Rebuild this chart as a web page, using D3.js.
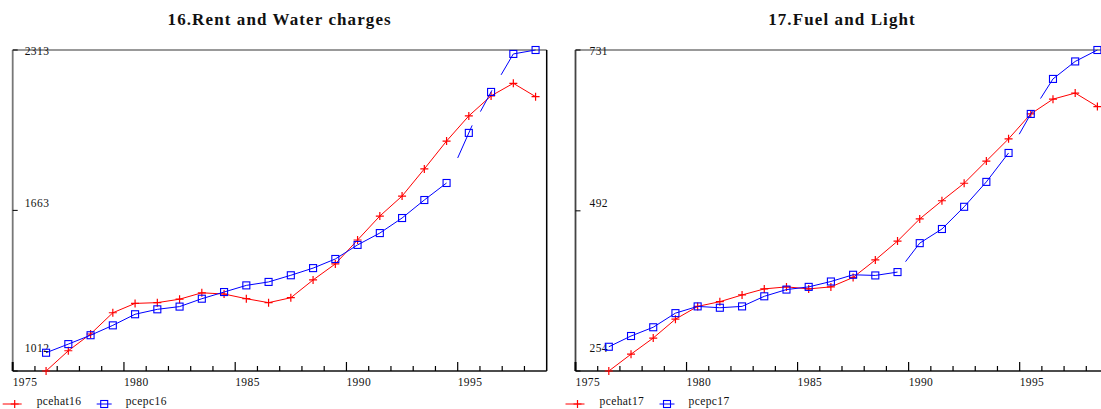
<!DOCTYPE html>
<html>
<head>
<meta charset="utf-8">
<script src="https://cdn.jsdelivr.net/npm/d3@7"></script>
<style>
  body { margin: 0; background: #fff; }
  text { font-family: "Liberation Serif", "Times New Roman", serif; fill: #111; }
</style>
</head>
<body>
<svg id="chart" width="1101" height="409"></svg>
<script>
// observation years (points sit mid-year)
let years = [1976, 1977, 1978, 1979, 1980, 1981, 1982, 1983, 1984, 1985, 1986, 1987,
             1988, 1989, 1990, 1991, 1992, 1993, 1994, 1995, 1996, 1997, 1998];

// 16. Rent and Water charges
let pcehat16 = [1012, 1094, 1162, 1248, 1286, 1289, 1303, 1329, 1324, 1305, 1289, 1309,
                1381, 1446, 1543, 1640, 1721, 1831, 1944, 2046, 2127, 2178, 2124];
let pcepc16 = [1086, 1121, 1157, 1197, 1242, 1262, 1273, 1305, 1332, 1359, 1373, 1400,
               1429, 1466, 1523, 1571, 1632, 1705, 1774, 1977, 2143, 2297, 2313];
let yTicks16 = [1012, 1663, 2313];
// broken pieces of the pcepc line: [from index, start fraction, end fraction]
let pcepc16Pieces = [[18, 0.5, 1.15], [19, 0.52, 1.04], [20, 0.45, 1.0]];

// 17. Fuel and Light
let pcehat17 = [254, 279, 303, 331, 350, 357, 367, 376, 379, 376, 379, 393,
                419, 447, 480, 507, 533, 566, 599, 636, 658, 667, 647];
let pcepc17 = [290, 306, 319, 340, 350, 348, 350, 365, 375, 379, 387, 397,
               396, 401, 444, 465, 498, 535, 578, 636, 688, 714, 731];
let yTicks17 = [254, 492, 731];
let pcepc17Pieces = [[13, 0.36, 1.0], [18, 0.48, 1.09], [19, 0.44, 1.0]];

let xDomain = [1975, 1999];
let xMajor = [1975, 1980, 1985, 1990, 1995];

let svg = d3.select("#chart");

function drawPanel(p) {
  let g = svg.append("g");
  let x = d3.scaleLinear().domain(xDomain).range([p.left, p.right]);
  let y = d3.scaleLinear().domain([p.yTicks[0], p.yTicks[2]]).range([371, 50]);

  // title
  g.append("text")
    .attr("x", (p.left + p.right) / 2).attr("y", 25)
    .attr("text-anchor", "middle")
    .style("font-size", "17px").style("font-weight", "bold")
    .style("letter-spacing", "1.1px")
    .text(p.title);

  // frame
  g.append("line").attr("x1", p.left).attr("x2", p.right).attr("y1", 50).attr("y2", 50)
    .attr("stroke", "#777").attr("stroke-width", 1.5);
  g.append("line").attr("x1", p.right).attr("x2", p.right).attr("y1", 50).attr("y2", 371)
    .attr("stroke", "#000").attr("stroke-width", 1.5);
  g.append("line").attr("x1", p.left).attr("x2", p.left).attr("y1", 50).attr("y2", 371)
    .attr("stroke", p.axisColor).attr("stroke-width", 1.8);
  g.append("line").attr("x1", p.left).attr("x2", p.right).attr("y1", 371).attr("y2", 371)
    .attr("stroke", "#111").attr("stroke-width", 1.3);

  // x ticks
  let allYears = d3.range(xDomain[0], xDomain[1]);
  g.selectAll(".xt").data(allYears).enter().append("line")
    .attr("x1", d => x(d)).attr("x2", d => x(d))
    .attr("y1", 371).attr("y2", d => xMajor.includes(d) ? 362 : 366)
    .attr("stroke", "#000").attr("stroke-width", d => d === 1975 ? 2 : 1.2);
  g.selectAll(".xl").data(xMajor).enter().append("text")
    .attr("x", d => x(d)).attr("y", 386)
    .style("font-size", "11.5px").style("letter-spacing", "0.4px")
    .text(d => d);

  // y ticks
  let labelShift = [-19, -3.5, 5];
  g.selectAll(".yt").data(p.yTicks).enter().append("line")
    .attr("x1", p.left).attr("x2", p.left + 5)
    .attr("y1", d => y(d)).attr("y2", d => y(d))
    .attr("stroke", "#000").attr("stroke-width", 1);
  g.selectAll(".yl").data(p.yTicks).enter().append("text")
    .attr("x", p.left + p.labelPad).attr("y", (d, i) => y(d) + labelShift[i])
    .style("font-size", "11.5px").style("letter-spacing", "0.4px")
    .text(d => d);

  let px = i => x(years[i] + 0.5);

  // red estimated series
  let line = d3.line().x((d, i) => px(i)).y(d => y(d));
  g.append("path").datum(p.hat).attr("d", line)
    .attr("fill", "none").attr("stroke", "#ff0000").attr("stroke-width", 1);
  g.selectAll(".plus").data(p.hat).enter().append("path")
    .attr("d", (d, i) => `M${px(i) - 4},${y(d)}h8M${px(i)},${y(d) - 4}v8`)
    .attr("stroke", "#ff0000").attr("stroke-width", 1.2);

  // blue actual series, drawn piece by piece
  for (let i = 0; i < p.pc.length - 1; i++) {
    let piece = p.pieces.find(q => q[0] === i);
    let t0 = piece ? piece[1] : 0, t1 = piece ? piece[2] : 1;
    let xa = px(i), xb = px(i + 1), ya = y(p.pc[i]), yb = y(p.pc[i + 1]);
    g.append("line")
      .attr("x1", xa + (xb - xa) * t0).attr("y1", ya + (yb - ya) * t0)
      .attr("x2", xa + (xb - xa) * t1).attr("y2", ya + (yb - ya) * t1)
      .attr("stroke", "#0000ff").attr("stroke-width", 1);
  }
  g.selectAll(".sq").data(p.pc).enter().append("rect")
    .attr("x", (d, i) => px(i) - 3.5).attr("y", d => y(d) - 3.5)
    .attr("width", 7).attr("height", 7)
    .attr("fill", "none").attr("stroke", "#0000ff").attr("stroke-width", 1.1);

  // legend
  let ly = 404;
  let lx = p.left;
  g.append("line").attr("x1", lx - 10).attr("x2", lx + 9).attr("y1", ly).attr("y2", ly)
    .attr("stroke", "#ff0000").attr("stroke-width", 1);
  g.append("path").attr("d", `M${lx - 2},${ly}h8M${lx + 2},${ly - 4}v8`)
    .attr("stroke", "#ff0000").attr("stroke-width", 1.2);
  g.append("text").attr("x", lx + 24).attr("y", 405)
    .style("font-size", "11.5px").style("letter-spacing", "0.4px").text(p.names[0]);
  g.append("line").attr("x1", lx + 84).attr("x2", lx + 99).attr("y1", ly).attr("y2", ly)
    .attr("stroke", "#0000ff").attr("stroke-width", 1);
  g.append("rect").attr("x", lx + 88).attr("y", ly - 3.5).attr("width", 7).attr("height", 7)
    .attr("fill", "none").attr("stroke", "#0000ff").attr("stroke-width", 1.1);
  g.append("text").attr("x", lx + 113).attr("y", 405)
    .style("font-size", "11.5px").style("letter-spacing", "0.4px").text(p.names[1]);
}

drawPanel({
  title: "16.Rent and Water charges", left: 12.7, right: 546.7, axisColor: "#777",
  labelPad: 12, yTicks: yTicks16, hat: pcehat16, pc: pcepc16, pieces: pcepc16Pieces,
  names: ["pcehat16", "pcepc16"]
});
drawPanel({
  title: "17.Fuel and Light", left: 575.5, right: 1108.5, axisColor: "#444",
  labelPad: 14, yTicks: yTicks17, hat: pcehat17, pc: pcepc17, pieces: pcepc17Pieces,
  names: ["pcehat17", "pcepc17"]
});
</script>
</body>
</html>
